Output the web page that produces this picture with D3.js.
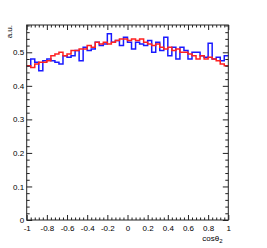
<!DOCTYPE html>
<html><head><meta charset="utf-8">
<script src="https://cdn.jsdelivr.net/npm/d3@7"></script>
<style>body{margin:0;background:#fff}svg{display:block}text{font-family:"Liberation Sans",Arial,sans-serif;fill:#000}</style>
</head><body><svg id="c" width="267" height="248"></svg>
<script>
const xMajor = [-1,-0.8,-0.6,-0.4,-0.2,0,0.2,0.4,0.6,0.8,1];
const xLabels = ["-1","-0.8","-0.6","-0.4","-0.2","0","0.2","0.4","0.6","0.8","1"];
const yMajor = [0,0.1,0.2,0.3,0.4,0.5];
const yLabels = ["0","0.1","0.2","0.3","0.4","0.5"];
const blue = [0.46,0.48,0.47,0.445,0.475,0.48,0.475,0.47,0.465,0.49,
              0.485,0.49,0.505,0.475,0.515,0.505,0.51,0.53,0.52,0.525,
              0.555,0.53,0.535,0.52,0.545,0.53,0.51,0.53,0.525,0.52,
              0.535,0.5,0.53,0.505,0.545,0.49,0.515,0.48,0.515,0.505,
              0.48,0.5,0.5,0.49,0.485,0.527,0.48,0.485,0.475,0.49];
const red = [0.46,0.455,0.465,0.47,0.47,0.475,0.49,0.495,0.5,0.49,
             0.495,0.505,0.505,0.51,0.51,0.52,0.515,0.53,0.525,0.53,
             0.525,0.53,0.535,0.54,0.54,0.535,0.54,0.535,0.54,0.53,
             0.525,0.52,0.525,0.515,0.51,0.515,0.505,0.51,0.5,0.5,
             0.495,0.49,0.48,0.49,0.48,0.485,0.48,0.475,0.465,0.46];

const svg = d3.select("#c");
const x = d3.scaleLinear([-1,1],[26.7,228.3]);
const y = d3.scaleLinear([0,0.5],[220,52.3]);
const topY = 25;
const yTopVal = y.invert(topY);
const nb = blue.length, w = 2/nb;

function stepPts(arr){ const p = arr.map((v,i)=>[-1+i*w,v]); p.push([1,arr[arr.length-1]]); return p; }
const line = d3.line().x(d=>x(d[0])).y(d=>y(d[1])).curve(d3.curveStepAfter);

svg.append("path").attr("d",line(stepPts(blue))).attr("fill","none").attr("stroke","#1a1aff").attr("stroke-width",1.5);
svg.append("path").attr("d",line(stepPts(red))).attr("fill","none").attr("stroke","#ff2020").attr("stroke-width",1.5);

const xMinor = d3.range(0,51).map(i=>-1+i*0.04).filter(v=>Math.abs(Math.round(v*5)-v*5)>1e-6);
const yMinor = d3.range(0,30).map(i=>i*0.02).filter(v=>v<=yTopVal && Math.abs(Math.round(v*10)-v*10)>1e-6);

function ax(gen, tr){ const g = svg.append("g").attr("transform",tr).call(gen); g.selectAll(".domain").remove(); g.selectAll("line").attr("stroke","#222"); return g; }
// bottom
const gb = ax(d3.axisBottom(x).tickValues(xMajor).tickSize(-5).tickFormat((d,i)=>xLabels[i]), "translate(0,220)");
gb.selectAll("text").attr("font-size",8).attr("dy","0.35em").attr("y",8.3);
ax(d3.axisBottom(x).tickValues(xMinor).tickSize(-2.5).tickFormat(""), "translate(0,220)");
// top
ax(d3.axisTop(x).tickValues(xMajor).tickSize(-5).tickFormat(""), `translate(0,${topY})`);
ax(d3.axisTop(x).tickValues(xMinor).tickSize(-2.5).tickFormat(""), `translate(0,${topY})`);
// left
const gl = ax(d3.axisLeft(y).tickValues(yMajor).tickSize(-5.5).tickFormat((d,i)=>yLabels[i]), "translate(26.7,0)");
gl.selectAll("text").attr("font-size",8).attr("x",-2.5);
ax(d3.axisLeft(y).tickValues(yMinor).tickSize(-3).tickFormat(""), "translate(26.7,0)");
// right
ax(d3.axisRight(y).tickValues(yMajor).tickSize(-5.5).tickFormat(""), "translate(228.3,0)");
ax(d3.axisRight(y).tickValues(yMinor).tickSize(-3).tickFormat(""), "translate(228.3,0)");

// frame
svg.append("rect").attr("x",26.7).attr("y",topY).attr("width",228.3-26.7).attr("height",220-topY)
  .attr("fill","none").attr("stroke","#222").attr("stroke-width",1);

// axis titles
const xt = svg.append("text").attr("x",222.5).attr("y",240.5).attr("text-anchor","end").attr("font-size",8);
xt.append("tspan").text("cosθ");
xt.append("tspan").attr("font-size",6).attr("dy",2).text("2");
svg.append("text").attr("transform","translate(12,25) rotate(-90)").attr("text-anchor","end").attr("font-size",8).text("a.u.");
</script></body></html>
